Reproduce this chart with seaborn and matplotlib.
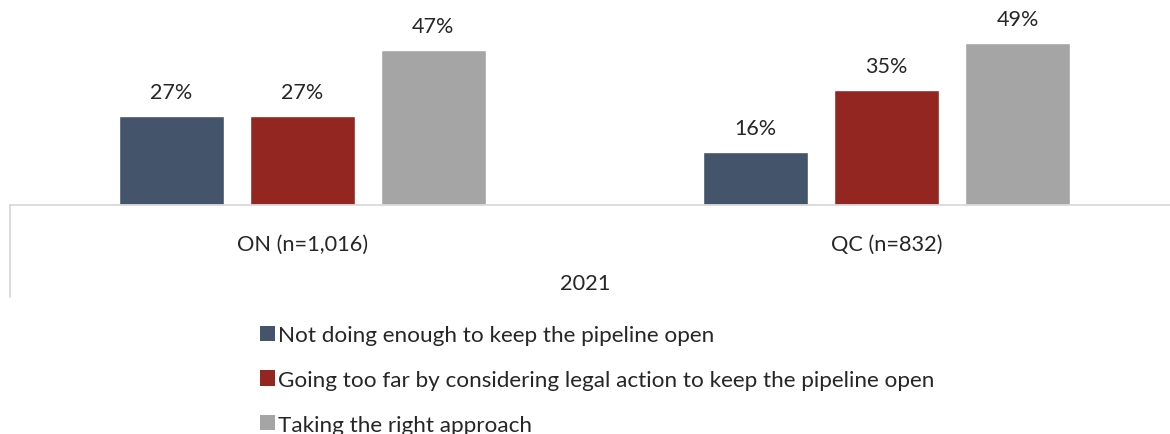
import matplotlib
matplotlib.use("Agg")
import matplotlib.pyplot as plt
import seaborn as sns
import pandas as pd
from matplotlib.patches import Patch

# Survey results, 2021
regions = ["ON (n=1,016)", "QC (n=832)"]
responses = [
    "Not doing enough to keep the pipeline open",
    "Going too far by considering legal action to keep the pipeline open",
    "Taking the right approach",
]
on_values = [27, 27, 47]
qc_values = [16, 35, 49]
year_label = "2021"
colors = ["#44546A", "#942621", "#A5A5A5"]

rows = []
for resp, on, qc in zip(responses, on_values, qc_values):
    rows.append({"region": regions[0], "response": resp, "value": on})
    rows.append({"region": regions[1], "response": resp, "value": qc})
df = pd.DataFrame(rows)

sns.set_theme(style="white")
plt.rcParams["font.family"] = ["Lato", "DejaVu Sans"]

W, H = 1170, 435
fig = plt.figure(figsize=(W / 100, H / 100), dpi=100)
ax_left, ax_right = 10, 1179
ax_bottom, ax_top = 206, 24.5
ax = fig.add_axes([ax_left / W, (H - ax_bottom) / H,
                   (ax_right - ax_left) / W, (ax_bottom - ax_top) / H])

sns.barplot(data=df, x="region", y="value", hue="response",
            hue_order=responses, order=regions, palette=colors,
            width=0.672, gap=0.2, ax=ax, legend=False, saturation=1)

ax.set_ylim(0, 55)
ax.set_xlim(-0.5, 1.5)
for cont in ax.containers:
    ax.bar_label(cont, labels=[f"{v:.0f}%" for v in cont.datavalues],
                 padding=10, fontsize=15.5, color="#262626")

for s in ["top", "right", "left"]:
    ax.spines[s].set_visible(False)
ax.spines["bottom"].set_color("#D9D9D9")
ax.spines["bottom"].set_linewidth(1.3)
ax.set_yticks([])
ax.set_xlabel("")
ax.set_ylabel("")
ax.tick_params(axis="x", length=0, pad=21, labelsize=15.7, labelcolor="#262626")

# Outer left border of the grouped category axis
fig.add_artist(plt.Line2D([9.5 / W, 9.5 / W], [(H - 206) / H, (H - 298) / H],
                          color="#D9D9D9", linewidth=1.3))
fig.text(0.5, (H - 284) / H, year_label, ha="center", va="center",
         fontsize=15.7, color="#262626")

handles = [Patch(facecolor=c, edgecolor="none") for c in colors]
fig.legend(handles, responses, loc="upper left",
           bbox_to_anchor=(260 / W, (H - 326.5) / H), frameon=False,
           fontsize=16.2, labelcolor="#262626", handlelength=0.68,
           handleheight=0.68, handletextpad=0.12, labelspacing=1.09,
           borderaxespad=0, borderpad=0)

fig.savefig("out.png", dpi=100)
